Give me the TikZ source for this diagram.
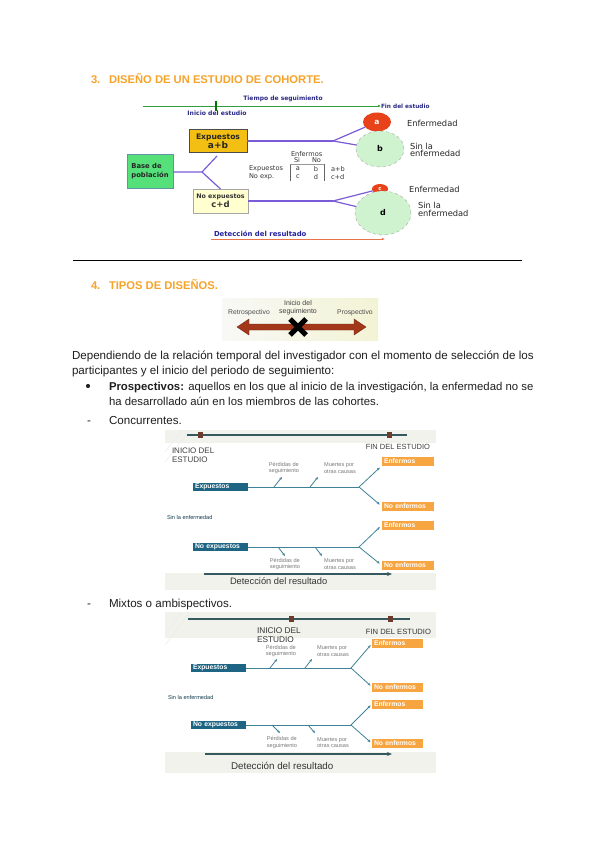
\documentclass[tikz,border=0pt]{standalone}
\usepackage{fontspec}
\setmainfont{Liberation Sans}
\newfontfamily\dv{DejaVu Sans}
\usetikzlibrary{arrows.meta,shapes.geometric}
\definecolor{orangeh}{HTML}{F6A32A}
\definecolor{navyt}{HTML}{2B2A86}
\definecolor{greenl}{HTML}{2E9E3E}
\definecolor{purp}{HTML}{7A5CD6}
\definecolor{goldb}{HTML}{F2BF12}
\definecolor{baseg}{HTML}{55E07A}
\definecolor{paley}{HTML}{FFFFD0}
\definecolor{redc}{HTML}{E8421A}
\definecolor{lgreen}{HTML}{CFF3CF}
\definecolor{orline}{HTML}{E8734A}
\definecolor{arrred}{HTML}{A3371A}
\definecolor{teal}{HTML}{1E6584}
\definecolor{tealine}{HTML}{3F8296}
\definecolor{topl}{HTML}{36595F}
\definecolor{brownm}{HTML}{6B3B2B}
\definecolor{orbox}{HTML}{F7A541}
\definecolor{diagbg}{HTML}{F1F2EC}
\definecolor{smallt}{HTML}{7A7A7A}
\begin{document}
\begin{tikzpicture}[x=1pt,y=-1pt,
  every node/.style={inner sep=0pt,outer sep=0pt},
  body/.style={anchor=base west,font=\fontsize{11.6}{14}\selectfont,text=black!88},
  head/.style={anchor=base west,font=\fontsize{11.2}{13}\selectfont\bfseries,text=orangeh},
  plines/.style={draw=purp,line width=1.2pt},
  circl/.style={ellipse,draw=gray!70,dashed,fill=lgreen,font=\dv\fontsize{8}{9}\selectfont\bfseries},
  redcirc/.style={ellipse,fill=redc,text=white,font=\dv\fontsize{7.5}{8}\selectfont\bfseries},
  lab/.style={font=\dv\fontsize{8.3}{7}\selectfont,text=black!85,align=left},
  tlab/.style={font=\dv\fontsize{6.6}{7}\selectfont,text=black!80},
  tealbox/.style={fill=teal,text=white,font=\fontsize{6.8}{7}\selectfont\bfseries,minimum width=55pt,minimum height=8.5pt,text width=50pt,align=left,inner xsep=2.5pt},
  orangebox/.style={fill=orbox,text=white,font=\fontsize{6.8}{7}\selectfont\bfseries,minimum width=52pt,minimum height=9pt,text width=48pt,align=left,inner xsep=2pt},
  tline/.style={draw=tealine,line width=1pt},
  tarrow/.style={draw=tealine,line width=0.8pt,-{Stealth[length=3pt,width=2.5pt]}},
  small/.style={font=\fontsize{5.6}{6.8}\selectfont,text=smallt,align=left},
  marker/.style={fill=brownm,minimum width=5pt,minimum height=6pt}
]
\useasboundingbox (0,0) rectangle (600,848);
\fill[white] (0,0) rectangle (600,848);

% ---------- Heading 3 ----------
\node[head] (h3n) at (91,84) {3.};
\node[head] (h3) at (109,84) {DISEÑO DE UN ESTUDIO DE COHORTE.};

% ---------- Cohort diagram ----------
\coordinate (gs) at (143,106);
\node[anchor=west,font=\dv\fontsize{5.8}{6}\selectfont\bfseries,text=navyt] (fin) at (381,106) {Fin del estudio};
\draw[greenl,line width=0.9pt,-{Latex[length=3pt,width=2.6pt]}] (gs) -- (fin.west);
\coordinate (tk1) at (216,101); \coordinate (tk2) at (216,111);
\draw[green!45!black,line width=1.6pt] (tk1) -- (tk2);
\node[font=\dv\fontsize{6}{6}\selectfont\bfseries,text=navyt] (tiempo) at (283,99) {Tiempo de seguimiento};
\node[font=\dv\fontsize{6.1}{6}\selectfont\bfseries,text=navyt] (inicio) at (217,113.5) {Inicio del estudio};

\node[draw=black!70,fill=goldb,minimum width=58pt,minimum height=23pt,align=center,
      font=\dv\fontsize{7.6}{10}\selectfont\bfseries,text=black!85] (exp) at (218,141) {Expuestos\\[-1pt]{\fontsize{9}{10}\selectfont a+b}};
\node[draw=teal!70,fill=baseg,minimum width=46pt,minimum height=34pt,align=left,
      font=\dv\fontsize{6.8}{8.5}\selectfont\bfseries,text=black!85] (base) at (150,171) {Base de\\población};
\node[draw=gray!70,fill=paley,minimum width=55pt,minimum height=24pt,align=center,
      font=\dv\fontsize{6.3}{9.5}\selectfont\bfseries,text=black!80] (noexp) at (220.5,201) {No expuestos\\{\fontsize{8.5}{9}\selectfont c+d}};

\coordinate (bj) at (202,172);
\coordinate (bup) at (217,156);
\draw[plines] (base.east |- bj) -- (bj) -- (bup);
\draw[plines] (bj) -- (noexp.north);

\node[redcirc,minimum width=28pt,minimum height=19pt] (a) at (377,122) {a};
\node[circl,minimum width=48pt,minimum height=36pt] (b) at (380,149) {b};
\node[redcirc,minimum width=16pt,minimum height=10pt,font=\dv\fontsize{5.5}{6}\selectfont\bfseries] (c) at (380,189) {c};
\node[circl,minimum width=56pt,minimum height=44pt] (d) at (383,213) {d};

\coordinate (ej) at (333,141);
\draw[plines] (exp.east) -- (ej);
\draw[plines] (ej) -- (a);
\draw[plines] (ej) -- (b);
\coordinate (nj) at (333,201);
\draw[plines] (noexp.east) -- (nj);
\draw[plines] (nj) -- (c);
\draw[plines] (nj) -- (d);

\node[lab,anchor=west] (la) at (407,123) {Enfermedad};
\node[lab,anchor=west] (lb) at (410,150) {Sin la\\enfermedad};
\node[lab,anchor=west] (lc) at (409,189) {Enfermedad};
\node[lab,anchor=west,font=\dv\fontsize{8.3}{8}\selectfont] (ld) at (418,209) {Sin la\\enfermedad};

% table
\node[tlab,anchor=west] (tenf) at (291,154.5) {Enfermos};
\node[tlab,anchor=west] (tsi) at (294,160.5) {Si};
\node[tlab,anchor=west] (tno) at (312,160.5) {No};
\node[tlab,anchor=west] (texp) at (249,169) {Expuestos};
\node[tlab,anchor=west] (tnoexp) at (249,177) {No exp.};
\node[tlab] (ta) at (298,169) {a};
\node[tlab] (tb) at (316,169) {b};
\node[tlab] (tc) at (298,177) {c};
\node[tlab] (td) at (316,177) {d};
\node[tlab,anchor=west] (tab) at (331,169) {a+b};
\node[tlab,anchor=west] (tcd) at (331,177) {c+d};
\coordinate (tb1) at (290,164); \coordinate (tb2) at (290,181);
\coordinate (tb3) at (324,164); \coordinate (tb4) at (324,181);
\draw[black!60,line width=0.5pt] (tb1) -- (tb2);
\draw[black!60,line width=0.5pt] (tb3) -- (tb4);
\draw[black!40,line width=0.4pt] (tb1) -- (tb3);

\node[anchor=west,font=\dv\fontsize{6.9}{7}\selectfont\bfseries,text=navyt!80!blue] (det) at (214,234) {Detección del resultado};
\coordinate (ds) at (211,239); \coordinate (de) at (385,239);
\draw[orline,line width=1pt,-{Latex[length=3pt,width=2.5pt]}] (ds) -- (de);

% rule
\coordinate (r1) at (73,260); \coordinate (r2) at (522,260);
\draw[black,line width=0.8pt] (r1) -- (r2);

% ---------- Heading 4 ----------
\node[head] (h4n) at (91,289) {4.};
\node[head] (h4) at (109,289) {TIPOS DE DISEÑOS.};

% arrow image
\shade[left color=white!50!diagbg,right color=diagbg!90!yellow] (222,298) rectangle (378,340);
\fill[arrred,draw=arrred!70!black,line width=0.4pt]
  (237,327) -- (249,319) -- (249,324) -- (354,324) -- (354,319) -- (366,327)
  -- (354,335) -- (354,330) -- (249,330) -- (249,335) -- cycle;
\coordinate (x1) at (290,319); \coordinate (x2) at (306,335);
\coordinate (x3) at (290,335); \coordinate (x4) at (306,319);
\draw[black,line width=5pt] (x1) -- (x2);
\draw[black,line width=5pt] (x3) -- (x4);
\node[font=\fontsize{6.8}{7}\selectfont,text=black!70] (retro) at (249,313) {Retrospectivo};
\node[font=\fontsize{7}{8}\selectfont,text=black!75,align=center] (inis) at (298,307.5) {Inicio del\\seguimiento};
\node[font=\fontsize{6.8}{7}\selectfont,text=black!70] (prosp) at (355,313) {Prospectivo};

% ---------- Body text ----------
\node[body] (t1) at (72,359) {Dependiendo de la relación temporal del investigador con el momento de selección de los};
\node[body] (t2) at (72,374) {participantes y el inicio del periodo de seguimiento:};
\fill[black!85] (88,386) circle (2.1pt);
\node[body,font=\fontsize{11.35}{14}\selectfont] (t3) at (109,390) {\textbf{Prospectivos:} aquellos en los que al inicio de la investigación, la enfermedad no se};
\node[body,font=\fontsize{11.35}{14}\selectfont] (t4) at (109,405) {ha desarrollado aún en los miembros de las cohortes.};
\node[body] (d1) at (87,424) {-};
\node[body] (t5) at (109,424) {Concurrentes.};
\node[body] (d2) at (87,607) {-};
\node[body] (t6) at (109,607) {Mixtos o ambispectivos.};

% ---------- Concurrentes diagram ----------
\fill[diagbg] (165,430) rectangle (436,590);
\fill[white] (165,443) rectangle (436,573);
\draw[white!85!gray,line width=0.5pt] (165,452) -- (182,430);
\draw[white!85!gray,line width=0.5pt] (165,462) -- (190,430);
\coordinate (ct1) at (187,435); \coordinate (ct2) at (407,435);
\draw[topl,line width=1.1pt] (ct1) -- (ct2);
\node[marker] (cm1) at (200,435) {};
\node[marker] (cm2) at (389,435) {};
\node[anchor=west,font=\fontsize{8}{9.5}\selectfont,text=black!75,align=left] (cini) at (172,455) {INICIO DEL\\ESTUDIO};
\node[anchor=east,font=\fontsize{7.5}{8}\selectfont,text=black!75] (cfin) at (430,447) {FIN DEL ESTUDIO};

\node[tealbox] (cexp) at (220,487) {Expuestos};
\node[tealbox] (cnexp) at (220,547) {No expuestos};
\node[orangebox] (cenf1) at (408,461) {Enfermos};
\node[orangebox] (cnenf1) at (408,506.5) {No enfermos};
\node[orangebox] (cenf2) at (408,525) {Enfermos};
\node[orangebox] (cnenf2) at (408,565.5) {No enfermos};

\coordinate (cj1) at (359,487);
\coordinate (cj2) at (359,547);
\draw[tline] (cexp.east) -- (cj1);
\draw[tline] (cnexp.east) -- (cj2);
\draw[tarrow,shorten >=3pt] (cj1) -- (cenf1.south west);
\draw[tarrow,shorten >=3pt] (cj1) -- (cnenf1.west);
\draw[tarrow,shorten >=3pt] (cj2) -- (cenf2.west);
\draw[tarrow,shorten >=3pt] (cj2) -- (cnenf2.west);
\coordinate (cp1s) at (274,487); \coordinate (cp1e) at (282,477);
\coordinate (cp2s) at (310,487); \coordinate (cp2e) at (318,477);
\coordinate (cp3s) at (278,547); \coordinate (cp3e) at (285,556);
\coordinate (cp4s) at (315,547); \coordinate (cp4e) at (322,556);
\draw[tarrow] (cp1s) -- (cp1e);
\draw[tarrow] (cp2s) -- (cp2e);
\draw[tarrow] (cp3s) -- (cp3e);
\draw[tarrow] (cp4s) -- (cp4e);
\node[small] (cl1) at (284,468) {Pérdidas de\\seguimiento};
\node[small] (cl2) at (340,468) {Muertes por\\otras causas};
\node[small] (cl3) at (285,564) {Pérdidas de\\seguimiento};
\node[small] (cl4) at (340,564) {Muertes por\\otras causas};
\node[anchor=west,font=\fontsize{5.6}{6}\selectfont,text=teal!60!black] (csin) at (167,517) {Sin la enfermedad};
\coordinate (cb1) at (204,574); \coordinate (cb2) at (392,574);
\draw[topl,line width=1.1pt,-{Stealth[length=5pt,width=4pt]}] (cb1) -- (cb2);
\node[anchor=west,font=\fontsize{9.3}{10}\selectfont,text=black!80] (cdet) at (230,581.5) {Detección del resultado};

% ---------- Mixtos diagram ----------
\fill[diagbg] (165,612) rectangle (436,773);
\fill[white] (165,638) rectangle (436,752);
\draw[white!85!gray,line width=0.5pt] (165,635) -- (182,612);
\draw[white!85!gray,line width=0.5pt] (165,645) -- (190,612);
\coordinate (mt1) at (188,619); \coordinate (mt2) at (410,619);
\draw[topl,line width=1.1pt] (mt1) -- (mt2);
\node[marker] (mm1) at (291,619) {};
\node[marker] (mm2) at (390,619) {};
\node[anchor=west,font=\fontsize{8.3}{8.8}\selectfont,text=black!80,align=left] (mini) at (257,635.5) {INICIO DEL\\ESTUDIO};
\node[anchor=east,font=\fontsize{7.6}{8}\selectfont,text=black!80] (mfin) at (431,631.5) {FIN DEL ESTUDIO};

\node[tealbox] (mexp) at (218,668) {Expuestos};
\node[tealbox] (mnexp) at (218,725) {No expuestos};
\node[orangebox,minimum width=51pt,text width=47pt] (menf1) at (397.5,643.5) {Enfermos};
\node[orangebox,minimum width=51pt,text width=47pt] (mnenf1) at (397.5,687) {No enfermos};
\node[orangebox,minimum width=51pt,text width=47pt] (menf2) at (397.5,704) {Enfermos};
\node[orangebox,minimum width=51pt,text width=47pt] (mnenf2) at (397.5,743.5) {No enfermos};

\coordinate (mj1) at (351,668);
\coordinate (mj2) at (351,725);
\draw[tline] (mexp.east) -- (mj1);
\draw[tline] (mnexp.east) -- (mj2);
\draw[tarrow,shorten >=2pt] (mj1) -- (menf1.west);
\draw[tarrow,shorten >=2pt] (mj1) -- (mnenf1.west);
\draw[tarrow,shorten >=2pt] (mj2) -- (menf2.west);
\draw[tarrow,shorten >=2pt] (mj2) -- (mnenf2.west);
\coordinate (mp1s) at (270,668); \coordinate (mp1e) at (277,659);
\coordinate (mp2s) at (305,668); \coordinate (mp2e) at (312,659);
\coordinate (mp3s) at (272,725); \coordinate (mp3e) at (280,733);
\coordinate (mp4s) at (308,725); \coordinate (mp4e) at (315,733);
\draw[tarrow] (mp1s) -- (mp1e);
\draw[tarrow] (mp2s) -- (mp2e);
\draw[tarrow] (mp3s) -- (mp3e);
\draw[tarrow] (mp4s) -- (mp4e);
\node[small] (ml1) at (281,651) {Pérdidas de\\seguimiento};
\node[small] (ml2) at (333,651) {Muertes por\\otras causas};
\node[small] (ml3) at (282,742.5) {Pérdidas de\\seguimiento};
\node[small] (ml4) at (333,742.5) {Muertes por\\otras causas};
\node[anchor=west,font=\fontsize{5.6}{6}\selectfont,text=teal!60!black] (msin) at (168,697) {Sin la enfermedad};
\coordinate (mb1) at (205,754); \coordinate (mb2) at (392,754);
\draw[topl,line width=1.1pt,-{Stealth[length=5pt,width=4pt]}] (mb1) -- (mb2);
\node[anchor=west,font=\fontsize{9.8}{10}\selectfont,text=black!80] (mdet) at (231,765.5) {Detección del resultado};
\end{tikzpicture}
\end{document}
